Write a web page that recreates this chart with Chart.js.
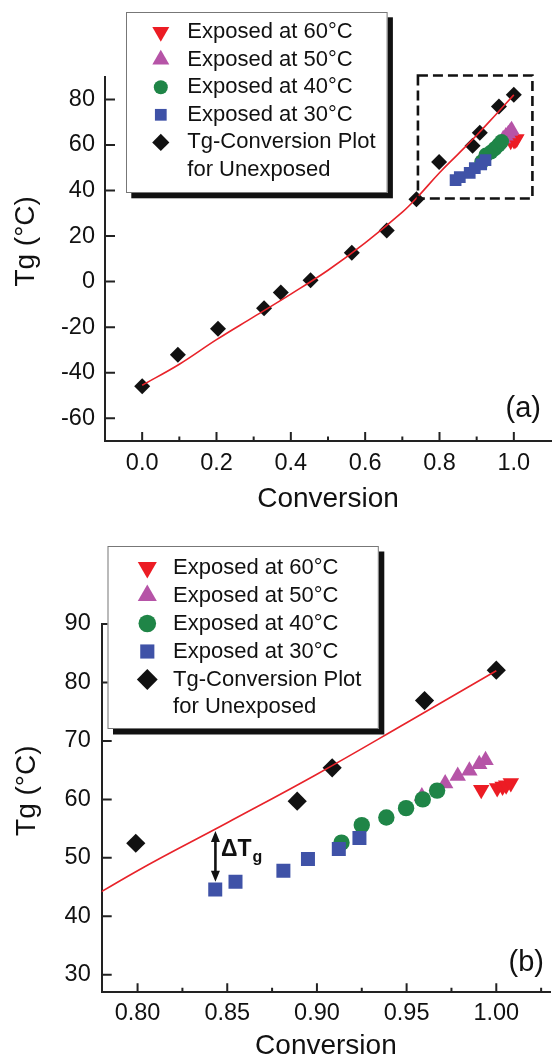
<!DOCTYPE html>
<html>
<head>
<meta charset="utf-8">
<script src="https://cdn.jsdelivr.net/npm/chart.js@4.4.1/dist/chart.umd.min.js"></script>
<style>
  html, body { margin: 0; padding: 0; background: #fff; overflow: hidden; width: 555px; height: 1057px; }
  canvas { position: absolute; left: 0; }
  #chart-a { top: 0; }
  #chart-b { top: 530px; }
</style>
</head>
<body>
<canvas id="chart-a" width="560" height="530"></canvas>
<canvas id="chart-b" width="560" height="545"></canvas>
<script>
const FONT = '"Liberation Sans", Arial, Helvetica, sans-serif';
const INK = '#111111';
const DEG = '\u00b0';

// Tg of unexposed samples vs conversion
const UNEXPOSED_X = [0, 0.096, 0.204, 0.328, 0.373, 0.453, 0.564, 0.658, 0.738, 0.799, 0.889, 0.9085, 0.96, 1.0];
const UNEXPOSED_TG = [-46, -32.1, -20.7, -11.7, -4.8, 0.6, 12.7, 22.5, 36.2, 52.5, 59.7, 65.4, 76.9, 82.1];

// exposed samples
const EXP30_X = [0.8433, 0.8546, 0.8813, 0.895, 0.9122, 0.9237];
const EXP30_TG = [44.6, 45.9, 47.8, 49.8, 51.5, 53.4];
const EXP40_X = [0.9137, 0.925, 0.9387, 0.9497, 0.959, 0.967];
const EXP40_TG = [52.6, 55.6, 56.9, 58.5, 60.0, 61.5];
const EXP50_X = [0.9585, 0.9715, 0.9785, 0.985, 0.9905, 0.994];
const EXP50_TG = [60.5, 62.7, 64.0, 64.9, 66.0, 66.7];
const EXP60_X = [0.9916, 1.0005, 1.0035, 1.0055, 1.0081];
const EXP60_TG = [61.65, 61.95, 62.2, 62.4, 62.8];

// fitted Tg-conversion curve
const FIT_X = [0, 0.1, 0.2, 0.3, 0.4, 0.5, 0.6, 0.7, 0.74, 0.8, 0.85, 0.9, 0.95, 1.0];
const FIT_TG = [-45.5, -36.3, -25.5, -15.5, -5.5, 5, 17, 30.5, 37, 47.8, 56, 64.3, 73.1, 82];

// axis ticks
const A_X_TICKS = [0, 0.1, 0.2, 0.3, 0.4, 0.5, 0.6, 0.7, 0.8, 0.9, 1.0];
const A_X_LABELS = [0, 0.2, 0.4, 0.6, 0.8, 1.0];
const A_Y_TICKS = [-60, -40, -20, 0, 20, 40, 60, 80];
const B_X_TICKS = [0.8, 0.825, 0.85, 0.875, 0.9, 0.925, 0.95, 0.975, 1.0, 1.025];
const B_X_LABELS = [0.8, 0.85, 0.9, 0.95, 1.0];
const B_Y_TICKS = [30, 40, 50, 60, 70, 80, 90];

// zoom window of panel (a) and the delta-Tg marker of panel (b)
const ZOOM_BOX_X = [0.742, 1.05];
const ZOOM_BOX_TG = [36.5, 90.5];
const DTG_X = 0.8434;
const DTG_TG = [54.6, 45.9];

const SERIES = [
  { label: 'Exposed at 60' + DEG + 'C', x: EXP60_X, y: EXP60_TG, color: '#ec1c24', shape: 'triangle', rotation: 180, order: 4 },
  { label: 'Exposed at 50' + DEG + 'C', x: EXP50_X, y: EXP50_TG, color: '#b654a7', shape: 'triangle', rotation: 0, order: 3 },
  { label: 'Exposed at 40' + DEG + 'C', x: EXP40_X, y: EXP40_TG, color: '#1f8547', shape: 'circle', rotation: 0, order: 2 },
  { label: 'Exposed at 30' + DEG + 'C', x: EXP30_X, y: EXP30_TG, color: '#3f52a7', shape: 'rect', rotation: 0, order: 1 },
  { label: ['Tg-Conversion Plot', 'for Unexposed'], x: UNEXPOSED_X, y: UNEXPOSED_TG, color: INK, shape: 'rectRot', rotation: 0, order: 5 }
];

const pts = (xs, ys) => xs.map((x, i) => ({ x, y: ys[i] }));

function datasets(radii) {
  const sets = SERIES.map((s, i) => ({
    label: Array.isArray(s.label) ? s.label.join(' ') : s.label,
    data: pts(s.x, s.y),
    pointStyle: s.shape,
    rotation: s.rotation,
    pointRadius: radii[i],
    pointBackgroundColor: s.color,
    pointBorderWidth: 0,
    order: s.order
  }));
  sets.push({
    label: 'fit',
    data: pts(FIT_X, FIT_TG),
    showLine: true,
    pointRadius: 0,
    borderColor: '#e8232a',
    borderWidth: 1.6,
    tension: 0.4,
    order: 0
  });
  return sets;
}

function axes(o) {
  const tickFont = { family: FONT, size: 23.5 };
  return {
    x: {
      type: 'linear', min: o.xMin, max: o.xMax,
      afterBuildTicks: s => { s.ticks = o.xTicks.map(v => ({ value: v })); },
      afterFit: s => { s.height = o.xHeight; },
      grid: { display: false, drawTicks: false },
      border: { display: true, color: '#222', width: 2 },
      ticks: {
        autoSkip: false, maxRotation: 0, padding: o.xPad, color: INK, font: tickFont,
        callback: v => (o.xLabels.includes(v) ? v.toFixed(o.digits) : '')
      },
      title: { display: true, text: 'Conversion', color: INK, font: { family: FONT, size: 28 }, padding: { top: 0, bottom: o.titlePad } }
    },
    y: {
      type: 'linear', min: o.yMin, max: o.yMax,
      afterBuildTicks: s => { s.ticks = o.yTicks.map(v => ({ value: v })); },
      afterFit: s => { s.width = o.yWidth; },
      grid: { display: false, drawTicks: false },
      border: { display: true, color: '#222', width: 2 },
      ticks: { autoSkip: false, padding: o.yPad, color: INK, font: tickFont, callback: v => String(v) }
    }
  };
}

// inward tick marks, y title, legend box and panel annotations
const decor = {
  id: 'decor',
  afterDraw(chart, args, opts) {
    const { ctx, chartArea: area, scales: { x, y } } = chart;
    ctx.save();
    ctx.strokeStyle = '#222';
    ctx.lineWidth = 2;
    ctx.beginPath();
    x.ticks.forEach(t => {
      const px = x.getPixelForValue(t.value);
      const len = opts.xMajor.includes(t.value) ? 9 : 4.5;
      ctx.moveTo(px, area.bottom);
      ctx.lineTo(px, area.bottom - len);
    });
    y.ticks.forEach(t => {
      const py = y.getPixelForValue(t.value);
      ctx.moveTo(area.left, py);
      ctx.lineTo(area.left + 10, py);
    });
    ctx.stroke();

    // y axis title
    ctx.fillStyle = INK;
    ctx.font = '28px ' + FONT;
    ctx.textAlign = 'center';
    ctx.textBaseline = 'middle';
    ctx.save();
    ctx.translate(opts.yTitleX, (area.top + area.bottom) / 2 - 17.5);
    ctx.rotate(-Math.PI / 2);
    ctx.fillText('Tg (' + DEG + 'C)', 0, 0);
    ctx.restore();

    // panel letter
    ctx.font = '29px ' + FONT;
    ctx.textAlign = 'right';
    ctx.fillText(opts.panel, opts.panelX, opts.panelY);

    if (opts.zoomBox) {
      const x0 = x.getPixelForValue(ZOOM_BOX_X[0]), x1 = x.getPixelForValue(ZOOM_BOX_X[1]);
      const y0 = y.getPixelForValue(ZOOM_BOX_TG[1]), y1 = y.getPixelForValue(ZOOM_BOX_TG[0]);
      ctx.setLineDash([10, 5]);
      ctx.lineWidth = 2.6;
      ctx.strokeStyle = INK;
      ctx.strokeRect(x0, y0, x1 - x0, y1 - y0);
      ctx.setLineDash([]);
    }

    if (opts.deltaTg) {
      const ax = x.getPixelForValue(DTG_X);
      const top = y.getPixelForValue(DTG_TG[0]), bot = y.getPixelForValue(DTG_TG[1]);
      ctx.strokeStyle = INK;
      ctx.fillStyle = INK;
      ctx.lineWidth = 2.6;
      ctx.beginPath();
      ctx.moveTo(ax, top + 8);
      ctx.lineTo(ax, bot - 8);
      ctx.stroke();
      ctx.beginPath();
      ctx.moveTo(ax, top); ctx.lineTo(ax - 4.5, top + 11); ctx.lineTo(ax + 4.5, top + 11); ctx.closePath();
      ctx.moveTo(ax, bot); ctx.lineTo(ax - 4.5, bot - 11); ctx.lineTo(ax + 4.5, bot - 11); ctx.closePath();
      ctx.fill();
      const mid = (top + bot) / 2;
      ctx.textAlign = 'left';
      ctx.textBaseline = 'alphabetic';
      ctx.font = 'bold 23px ' + FONT;
      ctx.fillText('\u0394T', ax + 5.5, mid);
      const w = ctx.measureText('\u0394T').width;
      ctx.font = 'bold 16px ' + FONT;
      ctx.fillText('g', ax + 6.5 + w, mid + 5.5);
    }

    // legend with drop shadow
    const L = opts.legend;
    ctx.fillStyle = '#111';
    ctx.fillRect(L.left + L.shadow, L.top + L.shadow, L.width, L.height);
    ctx.fillStyle = '#fff';
    ctx.fillRect(L.left, L.top, L.width, L.height);
    ctx.strokeStyle = '#777';
    ctx.lineWidth = 1;
    ctx.strokeRect(L.left + 0.5, L.top + 0.5, L.width - 1, L.height - 1);
    ctx.font = '22px ' + FONT;
    ctx.textAlign = 'left';
    ctx.textBaseline = 'middle';
    SERIES.forEach((s, i) => {
      const cy = L.firstRow + i * L.step;
      ctx.fillStyle = s.color;
      Chart.helpers.drawPoint(ctx, { pointStyle: s.shape, rotation: s.rotation, radius: L.radii[i], borderWidth: 0 }, L.markerX, cy);
      ctx.fillStyle = INK;
      const lines = Array.isArray(s.label) ? s.label : [s.label];
      lines.forEach((t, k) => ctx.fillText(t, L.textX, cy + k * L.wrapStep));
    });
    ctx.restore();
  }
};

Chart.defaults.font.family = FONT;
Chart.defaults.color = INK;

function makeChart(id, o) {
  return new Chart(document.getElementById(id), {
    type: 'scatter',
    data: { datasets: datasets(o.radii) },
    options: {
      responsive: false,
      animation: false,
      devicePixelRatio: 1,
      layout: { padding: o.padding },
      plugins: { legend: { display: false }, tooltip: { enabled: false }, decor: o.decor },
      scales: axes(o)
    },
    plugins: [decor]
  });
}

makeChart('chart-a', {
  xMin: -0.1, xMax: 1.1, yMin: -70, yMax: 90,
  xTicks: A_X_TICKS, xLabels: A_X_LABELS, yTicks: A_Y_TICKS, digits: 1,
  xHeight: 89, yWidth: 105, xPad: 8, yPad: 10, titlePad: 13.7,
  padding: { top: 76.7, right: 4, bottom: 0, left: 0 },
  radii: [9, 9, 7.5, 8.3, 8],
  decor: {
    xMajor: A_X_LABELS, yTitleX: 26.5, panel: '(a)', panelX: 541, panelY: 409,
    zoomBox: true, deltaTg: false,
    legend: { left: 126, top: 12, width: 261.6, height: 181, shadow: 5.3, markerX: 160.8, textX: 187.3,
      firstRow: 32, step: 27.6, wrapStep: 27.5, radii: [9.8, 9.8, 7, 8.3, 8.6] }
  }
});

makeChart('chart-b', {
  xMin: 0.78, xMax: 1.03, yMin: 27, yMax: 90,
  xTicks: B_X_TICKS, xLabels: B_X_LABELS, yTicks: B_Y_TICKS, digits: 2,
  xHeight: 82.7, yWidth: 101.7, xPad: 7, yPad: 11, titlePad: 12.2,
  padding: { top: 94, right: 2.8, bottom: 0, left: 0 },
  radii: [9.5, 9.5, 8.2, 9.9, 9.6],
  decor: {
    xMajor: B_X_LABELS, yTitleX: 27, panel: '(b)', panelX: 544, panelY: 433,
    zoomBox: false, deltaTg: true,
    legend: { left: 107.5, top: 16, width: 271.3, height: 183, shadow: 5.5, markerX: 147.3, textX: 173.1,
      firstRow: 37.5, step: 28, wrapStep: 27.4, radii: [11, 11, 8.8, 10, 10.4] }
  }
});
</script>
</body>
</html>
